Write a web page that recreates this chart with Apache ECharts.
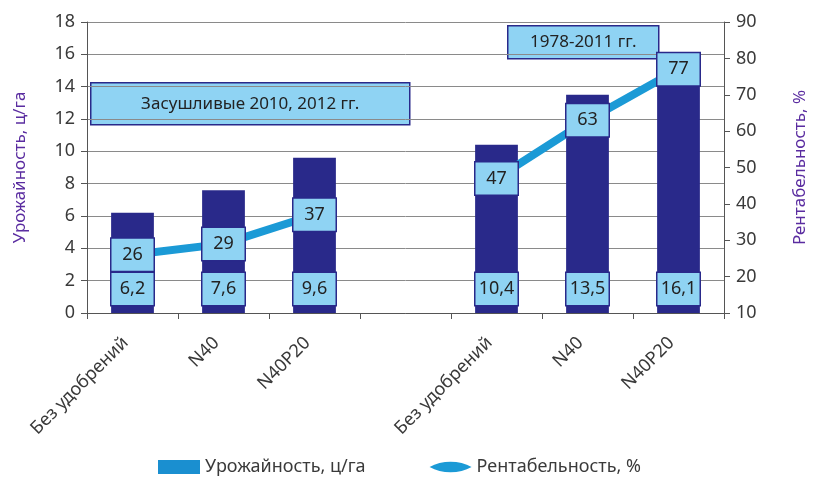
<!DOCTYPE html>
<html>
<head>
<meta charset="utf-8">
<script src="https://cdn.jsdelivr.net/npm/echarts@6/dist/echarts.min.js"></script>
<style>
html,body{margin:0;padding:0;background:#fff;}
#chart{width:817px;height:487px;}
</style>
</head>
<body>
<div id="chart"></div>
<script>
var categories = ['Без удобрений', 'N40', 'N40P20', '', 'Без удобрений', 'N40', 'N40P20'];
var yieldValues = [6.2, 7.6, 9.6, null, 10.4, 13.5, 16.1];
var profitValues = [26, 29, 37, null, 47, 63, 77];
var leftTicks = {min: 0, max: 18, interval: 2};
var rightTicks = {min: 10, max: 90, interval: 10};
var seriesNames = ['Урожайность, ц/га', 'Рентабельность, %'];
var notes = ['Засушливые 2010, 2012 гг.', '1978-2011 гг.'];

var FONT = 'Noto Sans';
var NAVY = '#29298a';
var LBLUE = '#8fd3f3';
var LINE = '#1b9ad6';
var TXT = '#3a3a3a';
var PURPLE = '#5a2ca0';

var boxLabel = {
  show: true,
  fontFamily: FONT,
  fontSize: 18,
  color: '#222',
  backgroundColor: LBLUE,
  borderColor: NAVY,
  borderWidth: 1.5,
  padding: [6, 5],
  width: 32,
  align: 'center',
  lineHeight: 20
};

var chart = echarts.init(document.getElementById('chart'));
chart.setOption({
  animation: false,
  backgroundColor: '#fff',
  grid: {left: 87, right: 78, top: 22, bottom: 174, containLabel: false},
  legend: {
    bottom: 6,
    left: 153,
    itemGap: 64,
    itemWidth: 42,
    itemHeight: 14,
    textStyle: {fontFamily: FONT, fontSize: 18, color: TXT},
    data: [
      {name: seriesNames[0], icon: 'rect', itemStyle: {color: '#1a8fd0'}},
      {name: seriesNames[1], icon: 'path://M0,7 C12,0 30,0 42,7 C30,14 12,14 0,7 Z', itemStyle: {color: LINE, opacity: 1}}
    ]
  },
  xAxis: {
    type: 'category',
    data: categories,
    boundaryGap: true,
    axisLine: {show: true, lineStyle: {color: '#555', width: 1}},
    axisTick: {show: true, alignWithLabel: false, length: 6, lineStyle: {color: '#555'}},
    axisLabel: {rotate: 45, interval: 0, fontFamily: FONT, fontSize: 18, color: TXT, margin: 20, padding: [0, 10, 0, 0]},
    splitLine: {show: false}
  },
  yAxis: [
    {
      type: 'value',
      min: leftTicks.min, max: leftTicks.max, interval: leftTicks.interval,
      name: 'Урожайность, ц/га',
      nameLocation: 'middle',
      nameGap: 58,
      nameRotate: 90,
      nameTextStyle: {fontFamily: FONT, fontSize: 17, color: PURPLE},
      axisLine: {show: true, lineStyle: {color: '#555'}},
      axisTick: {show: true, length: 6, lineStyle: {color: '#555'}},
      axisLabel: {fontFamily: FONT, fontSize: 18, color: TXT, margin: 12},
      splitLine: {show: true, lineStyle: {color: '#8a8a8a', width: 1}}
    },
    {
      type: 'value',
      min: rightTicks.min, max: rightTicks.max, interval: rightTicks.interval,
      name: 'Рентабельность, %',
      nameLocation: 'middle',
      nameGap: 68,
      nameRotate: 90,
      nameTextStyle: {fontFamily: FONT, fontSize: 17, color: PURPLE},
      axisLine: {show: true, lineStyle: {color: '#555'}},
      axisTick: {show: true, length: 6, lineStyle: {color: '#555'}},
      axisLabel: {fontFamily: FONT, fontSize: 18, color: TXT, margin: 12},
      splitLine: {show: false}
    }
  ],
  series: [
    {
      name: seriesNames[0],
      type: 'bar',
      yAxisIndex: 0,
      data: yieldValues,
      barWidth: '47%',
      itemStyle: {color: NAVY},
      label: Object.assign({}, boxLabel, {
        position: 'insideBottom',
        distance: 8,
        formatter: function (p) { return String(p.value).replace('.', ','); }
      }),
      z: 2
    },
    {
      name: seriesNames[1],
      type: 'line',
      yAxisIndex: 1,
      data: profitValues,
      connectNulls: false,
      smooth: false,
      showSymbol: true,
      symbol: 'circle',
      symbolSize: 4,
      lineStyle: {color: LINE, width: 8},
      itemStyle: {color: LINE},
      label: Object.assign({}, boxLabel, {
        position: 'inside',
        formatter: function (p) { return String(p.value); }
      }),
      labelLayout: {hideOverlap: false},
      z: 3
    }
  ],
  graphic: [
    {
      type: 'group', left: 90, top: 82, z: 10,
      children: [
        {type: 'rect', shape: {x: 0, y: 0, width: 319, height: 42}, style: {fill: LBLUE, stroke: NAVY, lineWidth: 1.5}},
        {type: 'text', x: 159.5, y: 21, style: {text: notes[0], fontFamily: FONT, fontSize: 17, fill: '#222', align: 'center', verticalAlign: 'middle'}}
      ]
    },
    {
      type: 'group', left: 507, top: 25, z: 10,
      children: [
        {type: 'rect', shape: {x: 0, y: 0, width: 151, height: 33}, style: {fill: LBLUE, stroke: NAVY, lineWidth: 1.5}},
        {type: 'text', x: 75.5, y: 16.5, style: {text: notes[1], fontFamily: FONT, fontSize: 17, fill: '#222', align: 'center', verticalAlign: 'middle'}}
      ]
    }
  ]
});
</script>
</body>
</html>
